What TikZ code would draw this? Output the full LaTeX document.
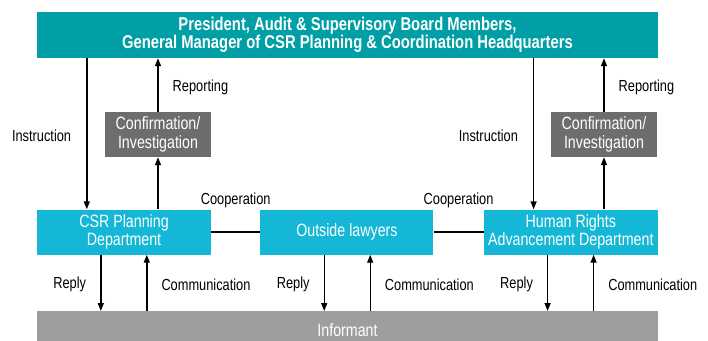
\documentclass[tikz,border=0pt]{standalone}
\usepackage{fontspec}
\setmainfont{Liberation Sans}[FakeStretch=0.8]
\usetikzlibrary{arrows.meta,positioning}
\definecolor{boardteal}{HTML}{009EA5}
\definecolor{deptcyan}{HTML}{14B7D6}
\definecolor{confgray}{HTML}{6D6D6D}
\definecolor{infogray}{HTML}{9D9E9E}
\tikzset{
  block/.style={fill=deptcyan, text=white, inner sep=0pt, minimum height=45pt, align=center, font=\fontsize{17.8}{18.5}\selectfont},
  dblock/.style={block, minimum width=174pt},
  cblock/.style={block, fill=confgray, minimum width=106pt},
  bar/.style={block, minimum width=621pt},
  arrow/.style={-{Triangle[length=8pt,width=6pt]}, line width=1.4pt},
  link/.style={line width=1.4pt},
  lbl/.style={font=\fontsize{16}{17}\selectfont, inner sep=0pt, yshift=-2pt}
}
\begin{document}
\begin{tikzpicture}[x=1pt,y=-1pt]
  \useasboundingbox (0,0) rectangle (708,340);
  % boxes
  \node[bar, fill=boardteal, minimum height=46pt, font=\bfseries\fontsize{18.5}{18}\selectfont] (board) at (347.5,35)
    {President, Audit \& Supervisory Board Members,\\General Manager of CSR Planning \& Coordination Headquarters};
  \node[dblock] (csr) at (124,232) {CSR Planning\\Department};
  \node[dblock, right=49pt of csr, minimum width=173pt] (lawyers) {Outside lawyers};
  \node[dblock, right=50pt of lawyers] (hr) {Human Rights\\Advancement Department};
  \node[cblock] (confL) at (158,134.5) {Confirmation/\\Investigation};
  \node[cblock] (confR) at (604,134.5) {Confirmation/\\Investigation};
  \node[bar, fill=infogray, minimum height=37pt, anchor=north] (informant) at (347.5,311) {Informant};
  % instruction and reporting
  \coordinate (instrL) at ([xshift=50pt]csr.north west);
  \coordinate (instrR) at ([xshift=50pt]hr.north west);
  \draw[arrow] (instrL |- board.south) -- node[lbl, left=15pt]{Instruction} (instrL);
  \draw[arrow] (instrR |- board.south) -- node[lbl, left=15pt]{Instruction} (instrR);
  \draw[arrow] (confL.north) -- node[lbl, right=14pt]{Reporting} (confL.north |- board.south);
  \draw[arrow] (confR.north) -- node[lbl, right=14pt]{Reporting} (confR.north |- board.south);
  \draw[arrow] (csr.north -| confL) -- (confL.south);
  \draw[arrow] (hr.north -| confR) -- (confR.south);
  % cooperation
  \draw[link] (csr) -- node[lbl, above=25pt]{Cooperation} (lawyers);
  \draw[link] (lawyers) -- node[lbl, above=25pt]{Cooperation} (hr);
  % reply and communication
  \foreach \d in {csr,lawyers,hr}{
    \coordinate (rep) at ([xshift=64pt]\d.south west);
    \coordinate (com) at ([xshift=110pt]\d.south west);
    \draw[arrow] (rep) -- node[lbl, left=14pt]{Reply} (rep |- informant.north);
    \draw[arrow] (com |- informant.north) -- node[lbl, right=14pt]{Communication} (com);
  }
\end{tikzpicture}
\end{document}
